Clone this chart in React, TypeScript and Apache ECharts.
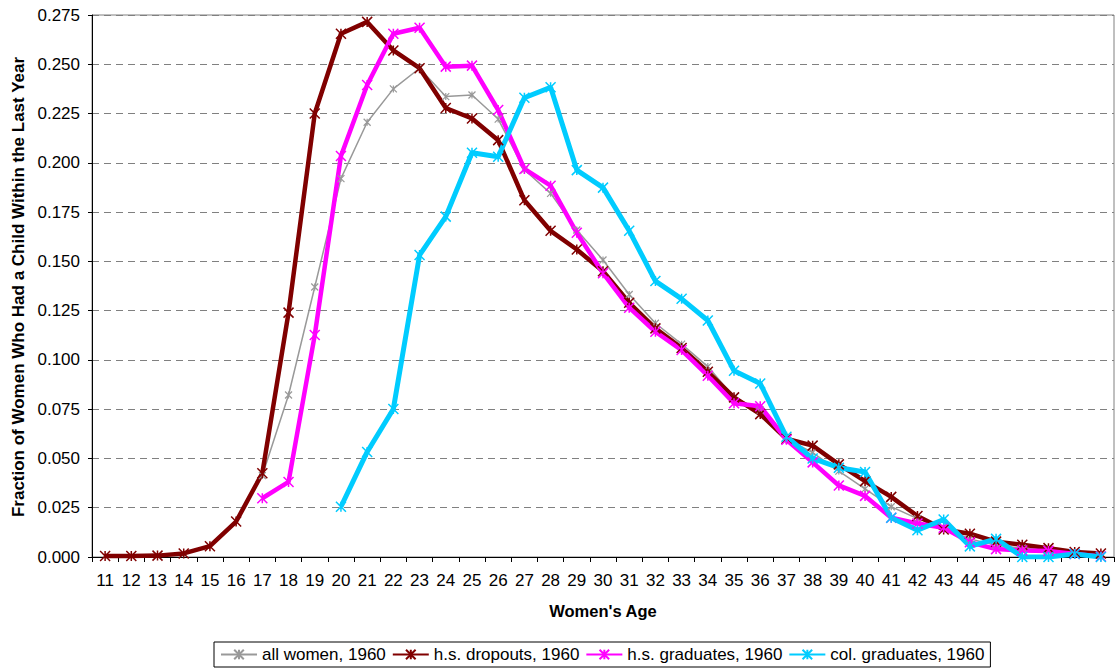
import React, { useEffect, useRef } from "react";
import * as echarts from "echarts";

const ages = ["11","12","13","14","15","16","17","18","19","20","21","22","23","24","25","26","27","28","29","30","31","32","33","34","35","36","37","38","39","40","41","42","43","44","45","46","47","48","49"];

const allWomen = [null,null,null,null,null,null,0.0413,0.0822,0.137,0.192,0.2206,0.2375,0.248,0.2336,0.2344,0.2222,0.1965,0.1845,0.1659,0.1507,0.1332,0.1186,0.108,0.0966,0.081,0.0745,0.060,0.053,0.0436,0.0346,0.0255,0.0195,0.0148,0.0092,0.006,0.0045,0.0035,0.002,0.0012];

const hsDropouts = [0.0005,0.0005,0.0007,0.0018,0.0055,0.018,0.0425,0.124,0.225,0.2655,0.2715,0.257,0.248,0.2278,0.2225,0.2115,0.181,0.1655,0.156,0.145,0.129,0.116,0.106,0.094,0.081,0.0725,0.060,0.0565,0.047,0.0385,0.0305,0.0208,0.014,0.0118,0.0078,0.0062,0.0045,0.0025,0.0018];

const hsGraduates = [null,null,null,null,null,null,0.0298,0.0381,0.1126,0.2035,0.2395,0.2655,0.2685,0.2488,0.2493,0.2268,0.1969,0.1884,0.1645,0.144,0.1265,0.1143,0.105,0.092,0.078,0.0765,0.0595,0.048,0.0363,0.031,0.0199,0.017,0.0148,0.0075,0.004,0.0033,0.0031,0.0015,0.0003];

const colGraduates = [null,null,null,null,null,null,null,null,null,0.0255,0.0533,0.0751,0.1532,0.1727,0.2051,0.2031,0.233,0.2383,0.1963,0.1874,0.1655,0.140,0.131,0.120,0.0945,0.088,0.061,0.050,0.0453,0.0431,0.0199,0.0136,0.019,0.0054,0.0092,0,0,0.0015,0];

const seriesNames = ["all women, 1960", "h.s. dropouts, 1960", "h.s. graduates, 1960", "col. graduates, 1960"];
const yTitle = "Fraction of Women Who Had a Child Within the Last Year";
const xTitle = "Women's Age";

const FONT = "'Liberation Sans', Arial, sans-serif";
const STAR = "path://M0,0L10,10M10,0L0,10M5,0L5,10";

function mkSeries(name: string, data: (number | null)[], color: string, width: number, symSize: number, symStroke: number) {
  return {
    name,
    type: "line",
    data,
    symbol: STAR,
    symbolSize: symSize,
    showSymbol: true,
    connectNulls: false,
    lineStyle: { color, width },
    itemStyle: { color, borderColor: color, borderWidth: symStroke },
    emphasis: { disabled: true },
  };
}

export default function App() {
  const ref = useRef<HTMLDivElement>(null);
  useEffect(() => {
    if (!ref.current) return;
    const chart = echarts.init(ref.current, undefined, { renderer: "svg" });
    chart.setOption({
      animation: false,
      backgroundColor: "#ffffff",
      textStyle: { fontFamily: FONT },
      grid: {
        left: 92,
        right: 5,
        top: 15,
        bottom: 113,
        show: true,
        borderColor: "#808080",
        borderWidth: 1,
        containLabel: false,
      },
      legend: {
        left: 214,
        top: 642,
        padding: [4, 6, 4, 6],
        borderColor: "#000000",
        borderWidth: 1,
        itemWidth: 36,
        itemHeight: 12,
        itemGap: 6,
        textStyle: { fontSize: 17, color: "#000", fontFamily: FONT },
        data: seriesNames,
      },
      graphic: [
        {
          type: "text",
          x: 18,
          y: 287,
          rotation: Math.PI / 2,
          silent: true,
          style: {
            text: yTitle,
            fontSize: 17,
            fontWeight: "bold",
            fontFamily: FONT,
            fill: "#000",
            align: "center",
            verticalAlign: "middle",
          },
        },
      ],
      xAxis: {
        type: "category",
        data: ages,
        boundaryGap: true,
        name: xTitle,
        nameLocation: "middle",
        nameGap: 45,
        nameTextStyle: { fontSize: 16.5, fontWeight: "bold", color: "#000", fontFamily: FONT },
        axisLine: { lineStyle: { color: "#000", width: 1 } },
        axisTick: { show: true, length: 5, alignWithLabel: false, lineStyle: { color: "#000" } },
        axisLabel: { interval: 0, fontSize: 17, color: "#000", margin: 15, fontFamily: FONT },
        splitLine: { show: false },
      },
      yAxis: {
        type: "value",
        min: 0,
        max: 0.275,
        interval: 0.025,
        axisLine: { show: true, lineStyle: { color: "#000", width: 1 } },
        axisTick: { show: true, length: 4, lineStyle: { color: "#000" } },
        axisLabel: {
          fontSize: 17,
          color: "#000",
          margin: 12,
          fontFamily: FONT,
          formatter: (v: number) => v.toFixed(3),
        },
        splitLine: { show: true, lineStyle: { color: "#808080", type: [7, 5], width: 1 } },
      },
      series: [
        mkSeries(seriesNames[0], allWomen, "#999999", 1.5, 7, 1.2),
        mkSeries(seriesNames[1], hsDropouts, "#800000", 4.5, 10, 1.5),
        mkSeries(seriesNames[2], hsGraduates, "#FF00FF", 4.5, 10, 1.5),
        mkSeries(seriesNames[3], colGraduates, "#00CCFF", 5, 10, 1.5),
      ],
    });
    return () => chart.dispose();
  }, []);
  return (
    <div
      ref={ref}
      style={{ position: "fixed", left: 0, top: 0, width: 1119, height: 670, background: "#fff" }}
    />
  );
}
